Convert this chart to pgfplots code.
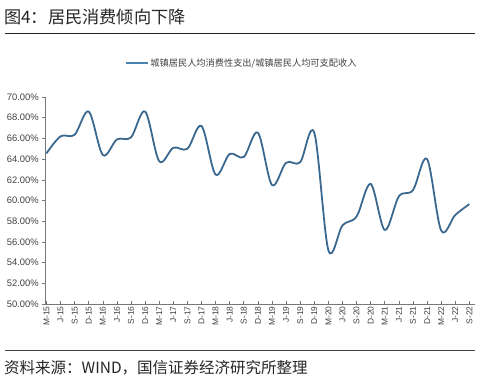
\documentclass[border=0pt]{standalone}
\usepackage{pgfplots}
\pgfplotsset{compat=1.18}
\usepackage{fontspec}
\setmainfont{Liberation Sans}
\newfontfamily\cjk{Noto Sans CJK SC}
\definecolor{linec}{RGB}{58,104,142}
\definecolor{legc}{RGB}{74,130,176}
\definecolor{txtc}{RGB}{64,64,64}
\definecolor{axc}{RGB}{120,120,120}
\begin{document}
\begin{tikzpicture}
\path[use as bounding box] (0,0) rectangle (497bp,-384bp);
\node[anchor=west,inner sep=0pt,font=\cjk\fontsize{17.2bp}{18bp}\selectfont,text=black!85] at (4bp,-17bp) {图4：居民消费倾向下降};
\draw[line width=1bp,black!85] (5bp,-33bp) -- (475bp,-33bp);
\draw[line width=1bp,black!75] (5bp,-350.5bp) -- (475bp,-350.5bp);
\node[anchor=west,inner sep=0pt,font=\cjk\fontsize{15.5bp}{17bp}\selectfont,text=black!85] at (4bp,-368bp) {资料来源：WIND，国信证券经济研究所整理};
\begin{axis}[
  at={(45.3bp,-304bp)}, anchor=south west,
  scale only axis, width=429.7bp, height=207bp,
  xmin=-0.08, xmax=30.4, ymin=50, ymax=70,
  axis x line=bottom, axis y line=left,
  axis line style={-, axc, line width=0.7bp},
  xtick={0,...,30},
  xticklabels={M-15,J-15,S-15,D-15,M-16,J-16,S-16,D-16,M-17,J-17,S-17,D-17,M-18,J-18,S-18,D-18,M-19,J-19,S-19,D-19,M-20,J-20,S-20,D-20,M-21,J-21,S-21,D-21,M-22,J-22,S-22},
  x tick label style={rotate=90, anchor=east, font=\fontsize{8.4bp}{9bp}\selectfont, text=txtc, xshift=1bp},
  ytick={50,52,...,70},
  yticklabel={\pgfmathprintnumber[fixed,fixed zerofill,precision=2]{\tick}\%},
  y tick label style={font=\fontsize{9.4bp}{10bp}\selectfont, text=txtc},
  /pgf/number format/assume math mode=true,
  tick style={axc, line width=0.6bp},
  major tick length=3bp,
  xtick align=inside, ytick align=outside,
  legend style={at={(0.457,1.164)}, anchor=center, draw=none, fill=none, font=\cjk\fontsize{9.2bp}{10bp}\selectfont, text=txtc, inner sep=0pt},
  legend cell align=left,
  legend image code/.code={\draw[legc, line width=1.6bp] (0bp,0bp) -- (22bp,0bp);},
  clip=false,
]
\addplot[linec, line width=1.8bp, smooth, tension=0.55] coordinates {
(0,64.55) (1,66.2) (2,66.35) (3,68.6) (4,64.4) (5,65.9) (6,66.1) (7,68.6)
(8,63.8) (9,65.1) (10,65.0) (11,67.2) (12,62.5) (13,64.5) (14,64.2) (15,66.55)
(16,61.5) (17,63.65) (18,63.7) (19,66.55) (20,55.2) (21,57.6) (22,58.45) (23,61.6)
(24,57.15) (25,60.4) (26,61.0) (27,64.0) (28,57.1) (29,58.6) (30,59.65)
};
\addlegendentry{城镇居民人均消费性支出/城镇居民人均可支配收入}
\end{axis}
\end{tikzpicture}
\end{document}
